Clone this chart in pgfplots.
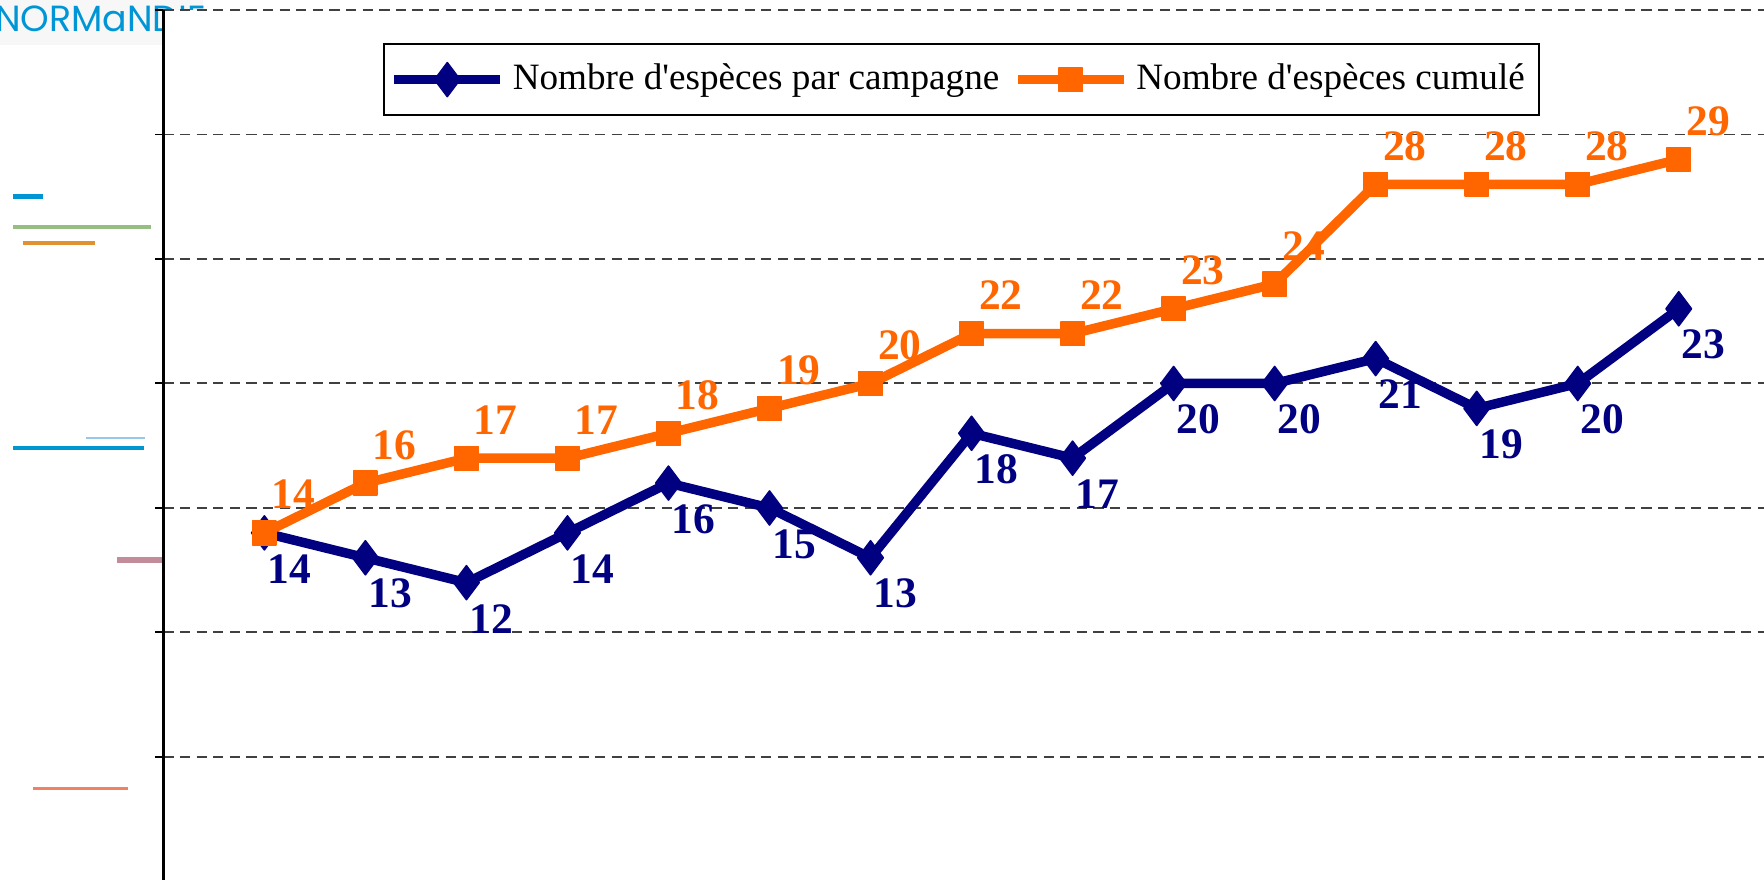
\documentclass[border=0pt]{standalone}
\usepackage{pgfplots}
\pgfplotsset{compat=1.18}
\usepackage{pgfplotstable}
\usepackage{fontspec}
\setmainfont{Liberation Serif}
\newfontfamily\legfont{Liberation Serif}
\newfontfamily\logofont{Poppins}
\definecolor{navy}{RGB}{0,0,128}
\definecolor{orng}{RGB}{255,102,0}
\definecolor{logoblue}{RGB}{0,150,214}

\pgfplotstableread{
x y
0 14
1 13
2 12
3 14
4 16
5 15
6 13
7 18
8 17
9 20
10 20
11 21
12 19
13 20
14 23
}\campagne

\pgfplotstableread{
x y
0 14
1 16
2 17
3 17
4 18
5 19
6 20
7 22
8 22
9 23
10 24
11 28
12 28
13 28
14 29
}\cumule

\begin{document}
\begin{tikzpicture}[x=1cm,y=1cm]
\useasboundingbox (0,0) rectangle (15.68,7.82);
% logo fragment
\fill[black!3] (0,7.42) rectangle (1.8,7.82);
\node[anchor=base west, inner sep=0, text=logoblue, font=\logofont\fontsize{9.2}{10}\selectfont] at (-0.05,7.54) {NORMaNDIE};
% decorative strokes at left
\draw[line width=1.3pt, color=logoblue] (0.12,6.07) -- (0.38,6.07);
\draw[line width=1.0pt, color={rgb,255:red,150;green,190;blue,130}] (0.12,5.80) -- (1.34,5.80);
\draw[line width=1.0pt, color={rgb,255:red,225;green,145;blue,50}] (0.20,5.66) -- (0.84,5.66);
\draw[line width=0.5pt, color={rgb,255:red,150;green,200;blue,235}] (0.76,3.93) -- (1.29,3.93);
\draw[line width=1.0pt, color={rgb,255:red,0;green,150;blue,210}] (0.12,3.84) -- (1.28,3.84);
\draw[line width=1.5pt, color={rgb,255:red,195;green,140;blue,155}] (1.04,2.84) -- (1.47,2.84);
\draw[line width=0.6pt, color={rgb,255:red,240;green,130;blue,100}] (0.29,0.81) -- (1.14,0.81);
\begin{axis}[
  at={(1.452cm,-0.015cm)}, anchor=south west,
  scale only axis, width=14.368cm, height=7.746cm,
  xmin=-1, xmax=15, ymin=0, ymax=35,
  axis y line=left, axis x line=bottom,
  axis line style={-, line width=0.6pt, black},
  xtick=\empty, ytick={5,10,...,35}, yticklabels={},
  tick align=outside, major tick length=0.07cm,
  tick style={black, line width=0.5pt},
  ymajorgrids,
  major grid style={dash pattern=on 2.6pt off 1.6pt, line width=0.5pt, black!75},
  axis background/.style={fill=white},
  /pgf/number format/assume math mode=true,
  clip=false,
  legend columns=2,
  legend cell align=left,
  legend style={at={(0.1356,0.9624)}, anchor=north west, draw=black, line width=0.6pt,
    fill=white, font=\legfont\fontsize{9.4}{10}\selectfont, inner xsep=1.5pt, inner ysep=3pt,
    /tikz/every even column/.append style={column sep=1.5pt}},
  legend image code/.code={\draw[mark repeat=2,mark phase=2,#1] plot coordinates {(0cm,0cm) (0.47cm,0cm) (0.94cm,0cm)};},
]
\addplot[navy, line width=2.4pt, line join=round, mark=diamond*, mark size=4.3pt,
  mark options={solid, line width=0.4pt, fill=navy, draw=navy},
  nodes near coords,
  every node near coord/.append style={font=\bfseries\fontsize{11}{12}\selectfont, text=navy, anchor=center, xshift=0.22cm, yshift=-0.32cm}]
  table[x=x, y=y] {\campagne};
\addlegendentry{Nombre d'espèces par campagne}
\addplot[orng, line width=2.4pt, line join=round, mark=square*, mark size=3pt,
  mark options={solid, line width=0.4pt, fill=orng, draw=orng},
  nodes near coords,
  every node near coord/.append style={font=\bfseries\fontsize{11}{12}\selectfont, text=orng, anchor=center, xshift=0.26cm, yshift=0.34cm}]
  table[x=x, y=y] {\cumule};
\addlegendentry{Nombre d'espèces cumulé}
\end{axis}
\end{tikzpicture}
\end{document}
